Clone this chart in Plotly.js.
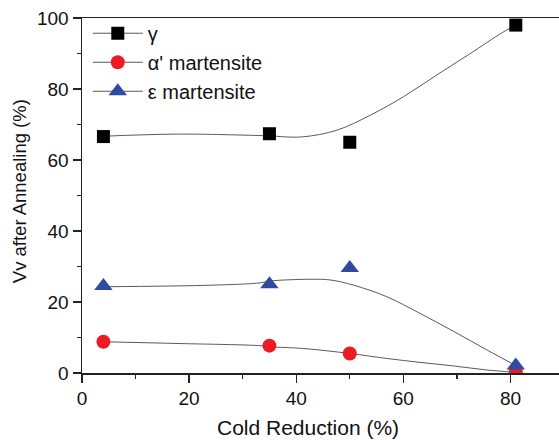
<!DOCTYPE html>
<html>
<head>
<meta charset="utf-8">
<script src="https://cdn.plot.ly/plotly-3.0.1.min.js"></script>
<style>html,body{margin:0;padding:0;overflow:hidden;background:#fff;}</style>
</head>
<body>
<div id="chart"></div>
<script>
// Measured points
const coldReduction = [4, 35, 50, 81];
const gamma = [66.6, 67.4, 65.0, 98.0];
const alphaMart = [8.8, 7.7, 5.5, 0.2];
const epsMart = [24.5, 25.0, 29.6, 2.1];

// Smoothed fit curves
const gammaCurveX = [4, 18, 33, 35, 41, 47.6, 53.8, 60, 66.2, 72.4, 78.6, 81];
const gammaCurveY = [66.7, 67.3, 66.9, 66.8, 66.5, 68.4, 72.6, 77.8, 83.9, 89.9, 96.0, 98.0];
const epsCurveX = [4, 24.5, 33.3, 35, 42.6, 46.4, 50.7, 56.9, 63.1, 69.3, 75.6, 81];
const epsCurveY = [24.3, 24.75, 25.4, 25.9, 26.4, 26.2, 24.75, 21.5, 16.8, 11.8, 6.5, 2.1];
const alphaCurveX = [4, 18.3, 33.3, 35, 41.4, 50, 56.9, 63.1, 69.3, 75.6, 81];
const alphaCurveY = [8.8, 8.3, 7.7, 7.4, 6.9, 5.5, 4.1, 3.0, 2.0, 0.85, 0.2];

const names = ['\u03b3', "\u03b1' martensite", '\u03b5 martensite'];
const xTicks = [0, 20, 40, 60, 80];
const yTicks = [0, 20, 40, 60, 80, 100];
const xTitle = 'Cold Reduction (%)';
const yTitle = 'Vv after Annealing (%)';

const lineColor = '#5a5a5a';
const colors = ['#000000', '#ed1c24', '#2e4b9f'];
const symbols = ['square', 'circle', 'triangle-up'];
const sizes = [13, 14, 16];
const clip = [false, true, false];

function curve(x, y) {
  return {x: x, y: y, mode: 'lines', line: {color: lineColor, width: 1, shape: 'spline', smoothing: 1},
          showlegend: false, hoverinfo: 'skip'};
}
function pts(y, i) {
  return {x: coldReduction, y: y, mode: 'markers', showlegend: false, cliponaxis: clip[i],
          marker: {symbol: symbols[i], size: sizes[i], color: colors[i], line: {width: 0}}};
}
function leg(i) {
  return {x: [null], y: [null], mode: 'lines+markers', name: names[i],
          line: {color: lineColor, width: 1},
          marker: {symbol: symbols[i], size: sizes[i], color: colors[i], line: {width: 0}}};
}

const data = [
  curve(gammaCurveX, gammaCurveY), curve(alphaCurveX, alphaCurveY), curve(epsCurveX, epsCurveY),
  pts(gamma, 0), pts(alphaMart, 1), pts(epsMart, 2),
  leg(0), leg(1), leg(2)
];

const fam = 'Liberation Sans, Arial, sans-serif';

const layout = {
  width: 564, height: 440,
  margin: {l: 82, r: 0, t: 18, b: 67},
  paper_bgcolor: '#fff', plot_bgcolor: '#fff',
  font: {family: fam, color: '#111', size: 19},
  showlegend: true,
  legend: {x: 0.012, y: 1.012, xanchor: 'left', yanchor: 'top', bgcolor: 'rgba(0,0,0,0)',
           itemwidth: 50,
           font: {family: fam, size: 20, color: '#111'}, tracegroupgap: 0},
  xaxis: {
    range: [0, 90], tickvals: xTicks, ticktext: xTicks.map(String),
    showgrid: false, zeroline: false, showline: true, linecolor: '#222', linewidth: 1.5,
    mirror: true, ticks: 'outside', ticklen: 8, tickwidth: 1.3, tickcolor: '#222',
    minor: {tickvals: [10, 30, 50, 70], ticks: 'outside', ticklen: 4, tickwidth: 1.3, tickcolor: '#222'},
    tickfont: {size: 19}
  },
  yaxis: {
    range: [0, 100], tickvals: yTicks, ticktext: yTicks.map(String),
    showgrid: false, zeroline: false, showline: true, linecolor: '#222', linewidth: 1.5,
    ticks: 'outside', ticklen: 8, tickwidth: 1.3, tickcolor: '#222',
    minor: {tickvals: [10, 30, 50, 70, 90], ticks: 'outside', ticklen: 4, tickwidth: 1.3, tickcolor: '#222'},
    tickfont: {size: 19}
  },
  annotations: [
    {text: xTitle, xref: 'paper', yref: 'paper', x: 0.469, y: -0.153, xanchor: 'center', yanchor: 'middle',
     showarrow: false, font: {family: fam, size: 21, color: '#111'}},
    {text: yTitle, xref: 'paper', yref: 'paper', x: -0.128, y: 0.513, xanchor: 'center', yanchor: 'middle',
     textangle: -90, showarrow: false, font: {family: fam, size: 18.5, color: '#111'}}
  ]
};

Plotly.newPlot('chart', data, layout, {displayModeBar: false, staticPlot: true});
</script>
</body>
</html>
